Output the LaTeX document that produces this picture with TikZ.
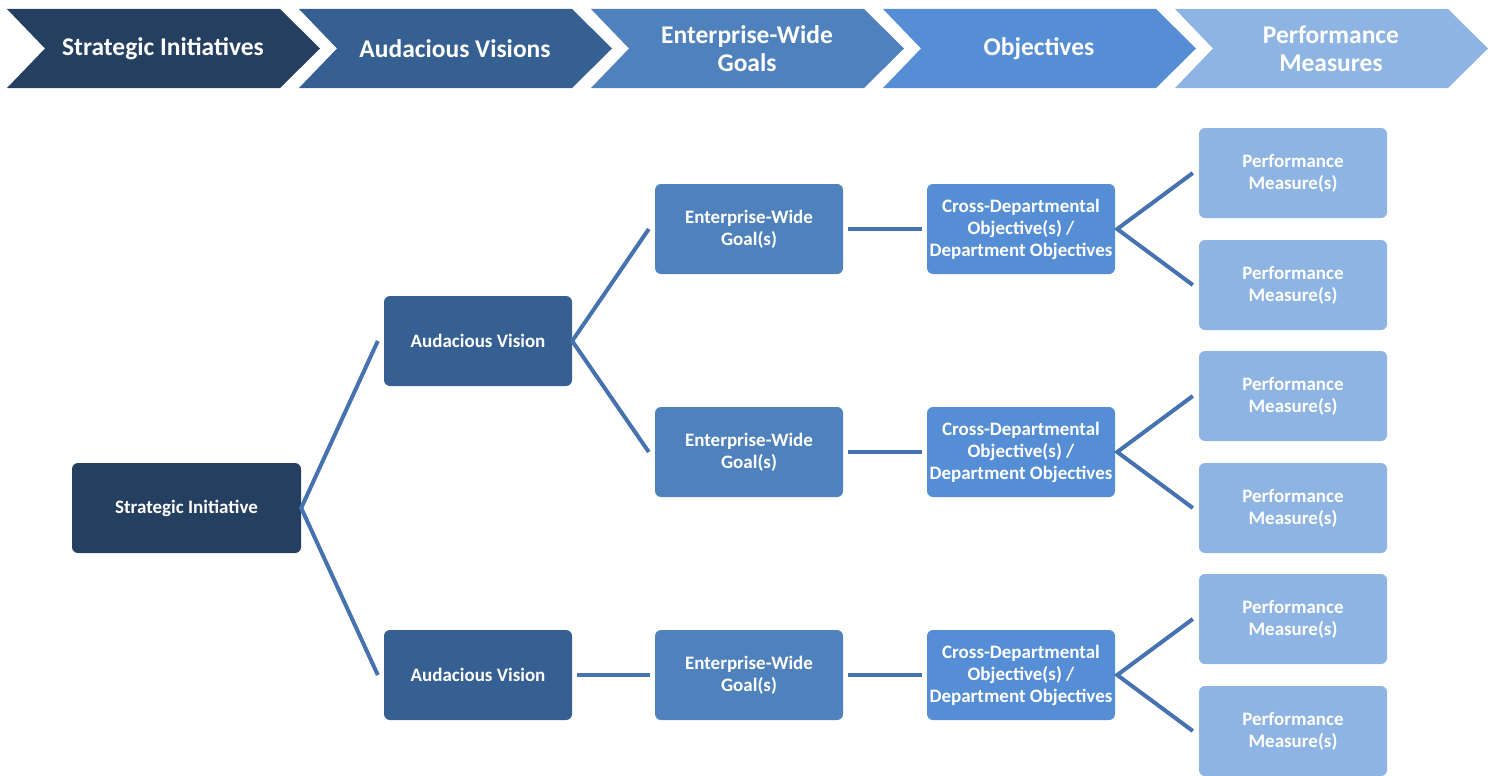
\documentclass[tikz,border=0pt]{standalone}
\usepackage{fontspec}
\setmainfont{Carlito}
\definecolor{cA}{HTML}{243F60}
\definecolor{cB}{HTML}{366092}
\definecolor{cC}{HTML}{4F81BD}
\definecolor{cD}{HTML}{558ED5}
\definecolor{cE}{HTML}{8EB4E3}
\definecolor{lineC}{HTML}{4672B0}
\begin{document}
\begin{tikzpicture}[x=1pt,y=-1pt,
  box/.style={rounded corners=6pt,minimum width=188pt,minimum height=90pt,inner sep=0pt,align=center,text=white,font=\bfseries\fontsize{19}{22}\selectfont},
  hdr/.style={text=white,align=center,font=\bfseries\fontsize{25.5}{28}\selectfont},
  conn/.style={draw=lineC,line width=4pt}]
\useasboundingbox (0,0) rectangle (1494,776);
% header chevrons
\foreach \i/\c/\t in {0/cA/{Strategic Initiatives},1/cB/{Audacious Visions},2/cC/{Enterprise-Wide\\Goals},3/cD/{Objectives},4/cE/{Performance\\Measures}}{
  \pgfmathsetmacro{\xo}{7+292*\i}
  \fill[\c] (\xo,9) -- (\xo+273,9) -- (\xo+313,48.5) -- (\xo+273,88) -- (\xo,88) -- (\xo+38,48.5) -- cycle;
  \node[hdr] (h\i) at (\xo+156,48.5) {\t};
}
% boxes
\node[box,fill=cA,minimum width=229pt] (si) at (186.5,508) {Strategic Initiative};
\node[box,fill=cB] (av1) at (478,341) {Audacious Vision};
\node[box,fill=cB] (av2) at (478,675) {Audacious Vision};
\node[box,fill=cC] (g1) at (749,229) {Enterprise-Wide\\Goal(s)};
\node[box,fill=cC] (g2) at (749,452) {Enterprise-Wide\\Goal(s)};
\node[box,fill=cC] (g3) at (749,675) {Enterprise-Wide\\Goal(s)};
\node[box,fill=cD] (o1) at (1021,229) {Cross-Departmental\\Objective(s) /\\Department Objectives};
\node[box,fill=cD] (o2) at (1021,452) {Cross-Departmental\\Objective(s) /\\Department Objectives};
\node[box,fill=cD] (o3) at (1021,675) {Cross-Departmental\\Objective(s) /\\Department Objectives};
\node[box,fill=cE] (p1) at (1293,173) {Performance\\Measure(s)};
\node[box,fill=cE] (p2) at (1293,285) {Performance\\Measure(s)};
\node[box,fill=cE] (p3) at (1293,396) {Performance\\Measure(s)};
\node[box,fill=cE] (p4) at (1293,508) {Performance\\Measure(s)};
\node[box,fill=cE] (p5) at (1293,619) {Performance\\Measure(s)};
\node[box,fill=cE] (p6) at (1293,731) {Performance\\Measure(s)};
% connectors
\draw[conn] ([xshift=-6pt]av1.west) -- (si.east) -- ([xshift=-6pt]av2.west);
\draw[conn] ([xshift=-6pt]g1.west) -- (av1.east) -- ([xshift=-6pt]g2.west);
\draw[conn] ([xshift=5pt]av2.east) -- ([xshift=-5pt]g3.west);
\draw[conn] ([xshift=5pt]g1.east) -- ([xshift=-5pt]o1.west);
\draw[conn] ([xshift=5pt]g2.east) -- ([xshift=-5pt]o2.west);
\draw[conn] ([xshift=5pt]g3.east) -- ([xshift=-5pt]o3.west);
\draw[conn] ([xshift=-6pt]p1.west) -- ([xshift=2pt]o1.east) -- ([xshift=-6pt]p2.west);
\draw[conn] ([xshift=-6pt]p3.west) -- ([xshift=2pt]o2.east) -- ([xshift=-6pt]p4.west);
\draw[conn] ([xshift=-6pt]p5.west) -- ([xshift=2pt]o3.east) -- ([xshift=-6pt]p6.west);
\end{tikzpicture}
\end{document}
